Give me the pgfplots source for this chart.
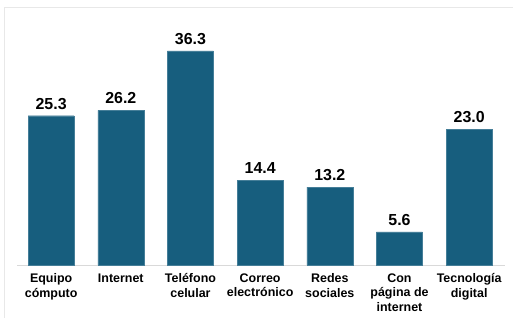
\documentclass[border=0pt]{standalone}
\usepackage{pgfplots}
\pgfplotsset{compat=1.18}
\usepackage{fontspec}
\setmainfont{Liberation Sans}
\definecolor{barblue}{RGB}{23,94,126}
\definecolor{frame}{RGB}{232,232,232}
\definecolor{axisgray}{RGB}{217,217,217}
\begin{document}
\begin{tikzpicture}
\path[use as bounding box] (0,0) rectangle (513bp,319bp);
\draw[frame, line width=1.5bp] (4.5bp,1bp) -- (4.5bp,311.5bp) -- (513bp,311.5bp);
\begin{axis}[
  at={(17bp,54bp)}, anchor=south west,
  scale only axis,
  x=69.67bp, y=5.9bp,
  xmin=-0.49, xmax=6.52, ymin=0, ymax=40,
  axis x line=bottom, axis y line=none,
  x axis line style={axisgray, line width=1bp, -},
  ytick=\empty,
  xtick={0,1,2,3,4,5,6},
  xticklabels={Equipo\\cómputo, Internet, Teléfono\\celular, Correo\\electrónico, Redes\\sociales, Con\\página de\\internet, Tecnología\\digital},
  xticklabel style={align=center, font=\bfseries\fontsize{12.5}{14.7}\selectfont, anchor=north, yshift=-5bp},
  major tick length=0,
  /pgf/number format/assume math mode=true,
  nodes near coords={\pgfmathprintnumber[fixed,fixed zerofill,precision=1]{\pgfplotspointmeta}},
  nodes near coords style={font=\bfseries\fontsize{16}{16}\selectfont, anchor=south, yshift=3bp, text=black},
  clip=false,
]
\addplot[ybar, bar width=46bp, fill=barblue, draw=barblue!80!white, line width=0.4bp] coordinates {
(0,25.3) (1,26.2) (2,36.3) (3,14.4) (4,13.2) (5,5.6) (6,23.0)
};
\end{axis}
\end{tikzpicture}
\end{document}
